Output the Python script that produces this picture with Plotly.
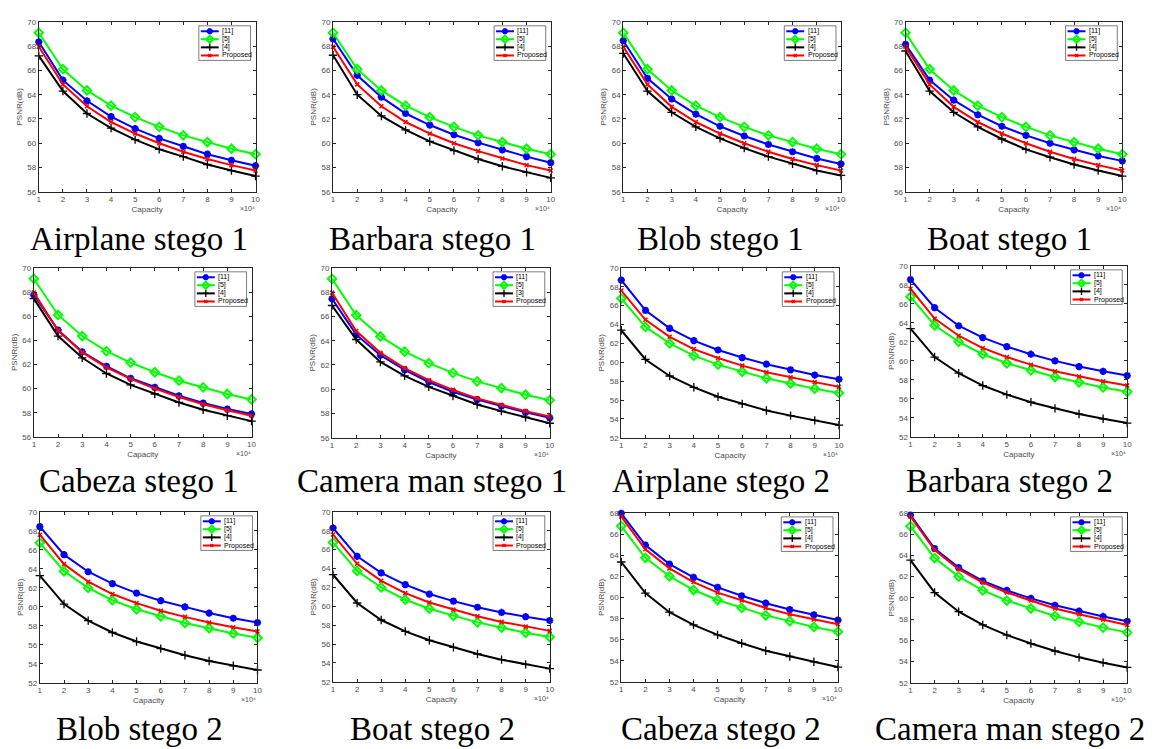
import plotly.graph_objects as go

W, H = 1158, 749

# ---------------- data ----------------
capacity = [10000, 20000, 30000, 40000, 50000, 60000, 70000, 80000, 90000, 100000]
capacity_labels = ["1", "2", "3", "4", "5", "6", "7", "8", "9", "10"]

titles = ["Airplane stego 1", "Barbara stego 1", "Blob stego 1", "Boat stego 1",
          "Cabeza stego 1", "Camera man stego 1", "Airplane stego 2", "Barbara stego 2",
          "Blob stego 2", "Boat stego 2", "Cabeza stego 2", "Camera man stego 2"]

legend_std = ["[11]", "[5]", "[4]", "Proposed"]
legend_cam1 = ["[11]", "[5]", "[3]", "Proposed"]

# stego 1
airplane1_ref11 = [68.35, 65.2, 63.5, 62.2, 61.2, 60.4, 59.75, 59.1, 58.6, 58.15]
airplane1_ref5 = [69.1, 66.1, 64.35, 63.1, 62.15, 61.35, 60.65, 60.1, 59.55, 59.1]
airplane1_ref4 = [67.2, 64.3, 62.45, 61.25, 60.3, 59.5, 58.9, 58.25, 57.75, 57.3]
airplane1_prop = [67.95, 64.85, 63.05, 61.75, 60.8, 60.0, 59.3, 58.7, 58.2, 57.75]

barbara1_ref11 = [68.6, 65.6, 63.8, 62.45, 61.5, 60.7, 60.05, 59.45, 58.9, 58.4]
barbara1_ref5 = [69.1, 66.1, 64.35, 63.1, 62.15, 61.35, 60.65, 60.1, 59.55, 59.1]
barbara1_ref4 = [67.25, 64.0, 62.25, 61.1, 60.15, 59.4, 58.7, 58.1, 57.6, 57.15]
barbara1_prop = [67.95, 64.85, 63.05, 61.75, 60.8, 60.0, 59.35, 58.75, 58.2, 57.75]

blob1_ref11 = [68.45, 65.35, 63.65, 62.4, 61.4, 60.6, 59.9, 59.3, 58.75, 58.3]
blob1_ref5 = [69.1, 66.1, 64.35, 63.1, 62.15, 61.35, 60.65, 60.1, 59.55, 59.1]
blob1_ref4 = [67.4, 64.3, 62.55, 61.35, 60.4, 59.6, 58.9, 58.3, 57.75, 57.35]
blob1_prop = [67.95, 64.85, 63.0, 61.75, 60.8, 60.0, 59.3, 58.7, 58.2, 57.75]

boat1_ref11 = [68.15, 65.2, 63.55, 62.35, 61.4, 60.65, 60.0, 59.45, 58.95, 58.55]
boat1_ref5 = [69.1, 66.1, 64.35, 63.1, 62.15, 61.35, 60.65, 60.1, 59.55, 59.1]
boat1_ref4 = [67.6, 64.3, 62.55, 61.35, 60.35, 59.5, 58.85, 58.25, 57.75, 57.3]
boat1_prop = [67.95, 64.85, 63.0, 61.75, 60.8, 60.0, 59.3, 58.7, 58.2, 57.75]

cabeza1_ref11 = [67.75, 64.85, 63.05, 61.85, 60.85, 60.1, 59.4, 58.8, 58.3, 57.9]
cabeza1_ref5 = [69.1, 66.1, 64.35, 63.1, 62.15, 61.35, 60.65, 60.1, 59.55, 59.1]
cabeza1_ref4 = [67.45, 64.35, 62.55, 61.25, 60.3, 59.55, 58.85, 58.25, 57.75, 57.3]
cabeza1_prop = [67.95, 64.8, 63.0, 61.75, 60.8, 60.0, 59.3, 58.7, 58.2, 57.75]

cameraman1_ref11 = [67.45, 64.5, 62.8, 61.6, 60.6, 59.8, 59.15, 58.6, 58.1, 57.65]
cameraman1_ref5 = [69.1, 66.1, 64.35, 63.1, 62.15, 61.35, 60.65, 60.1, 59.55, 59.1]
cameraman1_ref3 = [66.9, 64.1, 62.25, 61.1, 60.2, 59.45, 58.75, 58.2, 57.7, 57.2]
cameraman1_prop = [67.95, 64.8, 63.0, 61.75, 60.75, 59.95, 59.25, 58.7, 58.2, 57.75]

# stego 2
airplane2_ref11 = [68.7, 65.5, 63.6, 62.3, 61.3, 60.5, 59.8, 59.2, 58.65, 58.2]
airplane2_ref5 = [66.75, 63.75, 62.0, 60.7, 59.75, 59.0, 58.3, 57.75, 57.2, 56.75]
airplane2_ref4 = [63.4, 60.3, 58.55, 57.35, 56.35, 55.6, 54.9, 54.35, 53.85, 53.35]
airplane2_prop = [67.6, 64.5, 62.7, 61.4, 60.45, 59.65, 58.95, 58.4, 57.9, 57.4]

barbara2_ref11 = [68.55, 65.6, 63.7, 62.45, 61.5, 60.7, 60.0, 59.4, 58.9, 58.45]
barbara2_ref5 = [66.75, 63.75, 62.0, 60.7, 59.75, 59.0, 58.3, 57.75, 57.2, 56.75]
barbara2_ref4 = [63.4, 60.4, 58.7, 57.4, 56.45, 55.65, 55.0, 54.4, 53.9, 53.45]
barbara2_prop = [67.6, 64.45, 62.65, 61.35, 60.4, 59.6, 58.9, 58.35, 57.85, 57.4]

blob2_ref11 = [68.45, 65.5, 63.7, 62.45, 61.45, 60.65, 60.0, 59.35, 58.8, 58.35]
blob2_ref5 = [66.75, 63.75, 62.0, 60.7, 59.75, 59.0, 58.3, 57.75, 57.2, 56.75]
blob2_ref4 = [63.3, 60.3, 58.55, 57.3, 56.35, 55.6, 54.9, 54.3, 53.8, 53.35]
blob2_prop = [67.6, 64.5, 62.65, 61.35, 60.4, 59.6, 58.95, 58.35, 57.85, 57.4]

boat2_ref11 = [68.3, 65.3, 63.55, 62.3, 61.3, 60.55, 59.9, 59.35, 58.9, 58.5]
boat2_ref5 = [66.75, 63.75, 62.0, 60.7, 59.75, 59.0, 58.3, 57.75, 57.2, 56.75]
boat2_ref4 = [63.35, 60.35, 58.55, 57.35, 56.4, 55.65, 54.95, 54.35, 53.85, 53.4]
boat2_prop = [67.6, 64.5, 62.7, 61.4, 60.4, 59.65, 58.95, 58.35, 57.85, 57.4]

cabeza2_ref11 = [67.95, 64.95, 63.15, 61.9, 60.95, 60.15, 59.45, 58.85, 58.35, 57.85]
cabeza2_ref5 = [66.75, 63.75, 62.0, 60.7, 59.75, 59.0, 58.3, 57.75, 57.2, 56.75]
cabeza2_ref4 = [63.35, 60.4, 58.6, 57.4, 56.45, 55.65, 54.95, 54.4, 53.9, 53.4]
cabeza2_prop = [67.65, 64.55, 62.75, 61.45, 60.45, 59.7, 59.0, 58.4, 57.9, 57.45]

cameraman2_ref11 = [67.8, 64.65, 62.85, 61.6, 60.7, 59.95, 59.3, 58.75, 58.25, 57.8]
cameraman2_ref5 = [66.75, 63.75, 62.0, 60.7, 59.75, 59.0, 58.3, 57.75, 57.2, 56.75]
cameraman2_ref4 = [63.55, 60.5, 58.7, 57.45, 56.5, 55.7, 55.0, 54.4, 53.9, 53.45]
cameraman2_prop = [67.65, 64.5, 62.7, 61.45, 60.5, 59.75, 59.0, 58.45, 57.95, 57.45]

y_range_stego1 = [56, 70]
y_range_stego2 = [52, 70]
y_range_stego2_short = [52, 68]

panels = [
    (airplane1_ref11, airplane1_ref5, airplane1_ref4, airplane1_prop, legend_std, y_range_stego1),
    (barbara1_ref11, barbara1_ref5, barbara1_ref4, barbara1_prop, legend_std, y_range_stego1),
    (blob1_ref11, blob1_ref5, blob1_ref4, blob1_prop, legend_std, y_range_stego1),
    (boat1_ref11, boat1_ref5, boat1_ref4, boat1_prop, legend_std, y_range_stego1),
    (cabeza1_ref11, cabeza1_ref5, cabeza1_ref4, cabeza1_prop, legend_std, y_range_stego1),
    (cameraman1_ref11, cameraman1_ref5, cameraman1_ref3, cameraman1_prop, legend_cam1, y_range_stego1),
    (airplane2_ref11, airplane2_ref5, airplane2_ref4, airplane2_prop, legend_std, y_range_stego2),
    (barbara2_ref11, barbara2_ref5, barbara2_ref4, barbara2_prop, legend_std, y_range_stego2),
    (blob2_ref11, blob2_ref5, blob2_ref4, blob2_prop, legend_std, y_range_stego2),
    (boat2_ref11, boat2_ref5, boat2_ref4, boat2_prop, legend_std, y_range_stego2),
    (cabeza2_ref11, cabeza2_ref5, cabeza2_ref4, cabeza2_prop, legend_std, y_range_stego2_short),
    (cameraman2_ref11, cameraman2_ref5, cameraman2_ref4, cameraman2_prop, legend_std, y_range_stego2_short),
]

# ---------------- layout (pixels: left, right, top, bottom) ----------------
boxes = [
    (29, 247, 10, 182), (325, 544, 10, 182), (617, 836, 10, 182), (901, 1119, 10, 182),
    (24, 243, 259, 430), (324, 543, 259, 431), (615, 834, 259, 431), (906, 1124, 257, 430),
    (30, 249, 506, 679), (325, 543, 506, 678), (615, 833, 507, 678), (906, 1124, 507, 679),
]
title_x = [130, 425, 715, 1006]
title_y = [230, 475, 726]

colors = ["#0000ff", "#00ff00", "#000000", "#ff0000"]
symbols = ["asterisk-open", "diamond-open", "cross-thin-open", "x-thin-open"]
msizes = [6, 6.5, 6, 4]
mlw = [2.2, 2, 1.3, 1.5]
axis_col = "#262626"
tick_col = "#4d4d4d"
sans = "Liberation Sans, Arial, sans-serif"

fig = go.Figure()
layout = dict(
    width=W, height=H, margin=dict(l=0, r=0, t=0, b=0),
    paper_bgcolor="white", plot_bgcolor="rgba(0,0,0,0)",
    showlegend=False,
)
annotations = []

for i, (s11, s5, s4, sp, labels, yr) in enumerate(panels):
    n = i + 1
    xa = "x" if n == 1 else f"x{n}"
    ya = "y" if n == 1 else f"y{n}"
    xkey = "xaxis" if n == 1 else f"xaxis{n}"
    ykey = "yaxis" if n == 1 else f"yaxis{n}"
    l, r, t, b = boxes[i]
    for k, ser in enumerate([s11, s5, s4, sp]):
        fig.add_trace(go.Scatter(
            x=capacity, y=ser, xaxis=xa, yaxis=ya, mode="lines+markers",
            line=dict(color=colors[k], width=2),
            marker=dict(symbol=symbols[k], size=msizes[k], color=colors[k],
                        line=dict(color=colors[k], width=mlw[k])),
            cliponaxis=False, name=labels[k], hoverinfo="x+y+name",
        ))
    common = dict(showline=True, linecolor=axis_col, linewidth=1, mirror="ticks",
                  ticks="inside", ticklen=3, tickcolor=axis_col, showgrid=False,
                  zeroline=False, tickfont=dict(family=sans, size=8, color=tick_col),
                  fixedrange=True)
    layout[xkey] = dict(domain=[l / W, r / W], anchor=ya, range=[capacity[0], capacity[-1]],
                        tickvals=capacity, ticktext=capacity_labels,
                        title=dict(text="Capacity", font=dict(family=sans, size=8, color=tick_col), standoff=2),
                        **common)
    layout[ykey] = dict(domain=[1 - b / H, 1 - t / H], anchor=xa, range=yr, dtick=2, tick0=yr[0],
                        title=dict(text="PSNR(dB)", font=dict(family=sans, size=8, color=tick_col), standoff=3),
                        **common)
    # x10^4 multiplier
    annotations.append(dict(xref="x13", yref="y13", x=r + 1, y=b + 17, xanchor="right", yanchor="middle",
                            text="×10⁴", showarrow=False,
                            font=dict(family=sans, size=7, color=tick_col)))
    # title below subplot
    annotations.append(dict(xref="x13", yref="y13", x=title_x[i % 4], y=title_y[i // 4],
                            xanchor="center", yanchor="middle", text=titles[i], showarrow=False,
                            font=dict(family="Liberation Serif, Times New Roman, serif", size=33, color="black")))

# ---------------- overlay axis for per-panel legends ----------------
layout["xaxis13"] = dict(domain=[0, 1], range=[0, W], visible=False, fixedrange=True, anchor="y13")
layout["yaxis13"] = dict(domain=[0, 1], range=[H, 0], visible=False, fixedrange=True, anchor="x13")

LW, LH = 52, 35
row_off = [5.5, 13.5, 21.8, 30]
box_x, box_y = [], []
seg_x = [[] for _ in range(4)]
seg_y = [[] for _ in range(4)]
mk_x = [[] for _ in range(4)]
mk_y = [[] for _ in range(4)]
for i, (_, _, _, _, labels, _) in enumerate(panels):
    l, r, t, b = boxes[i]
    bx1 = r - 5
    bx0 = bx1 - LW
    by0 = t + 4
    by1 = by0 + LH
    box_x += [bx0, bx1, bx1, bx0, bx0, None]
    box_y += [by0, by0, by1, by1, by0, None]
    for k in range(4):
        yy = by0 + row_off[k]
        seg_x[k] += [bx0 + 2, bx0 + 20, None]
        seg_y[k] += [yy, yy, None]
        mk_x[k].append(bx0 + 11)
        mk_y[k].append(yy)
        annotations.append(dict(xref="x13", yref="y13", x=bx0 + 21.5, y=yy, xanchor="left",
                                yanchor="middle", text=labels[k], showarrow=False,
                                font=dict(family=sans, size=7, color="#000000")))

fig.add_trace(go.Scatter(x=box_x, y=box_y, xaxis="x13", yaxis="y13", mode="lines",
                         fill="toself", fillcolor="white",
                         line=dict(color="#262626", width=0.6), hoverinfo="skip"))
for k in range(4):
    fig.add_trace(go.Scatter(x=seg_x[k], y=seg_y[k], xaxis="x13", yaxis="y13", mode="lines",
                             line=dict(color=colors[k], width=2), hoverinfo="skip"))
    fig.add_trace(go.Scatter(x=mk_x[k], y=mk_y[k], xaxis="x13", yaxis="y13", mode="markers",
                             marker=dict(symbol=symbols[k], size=msizes[k] - 1, color=colors[k],
                                         line=dict(color=colors[k], width=mlw[k])),
                             hoverinfo="skip", cliponaxis=False))

layout["annotations"] = annotations
fig.update_layout(**layout)
fig.write_html("out.html")
